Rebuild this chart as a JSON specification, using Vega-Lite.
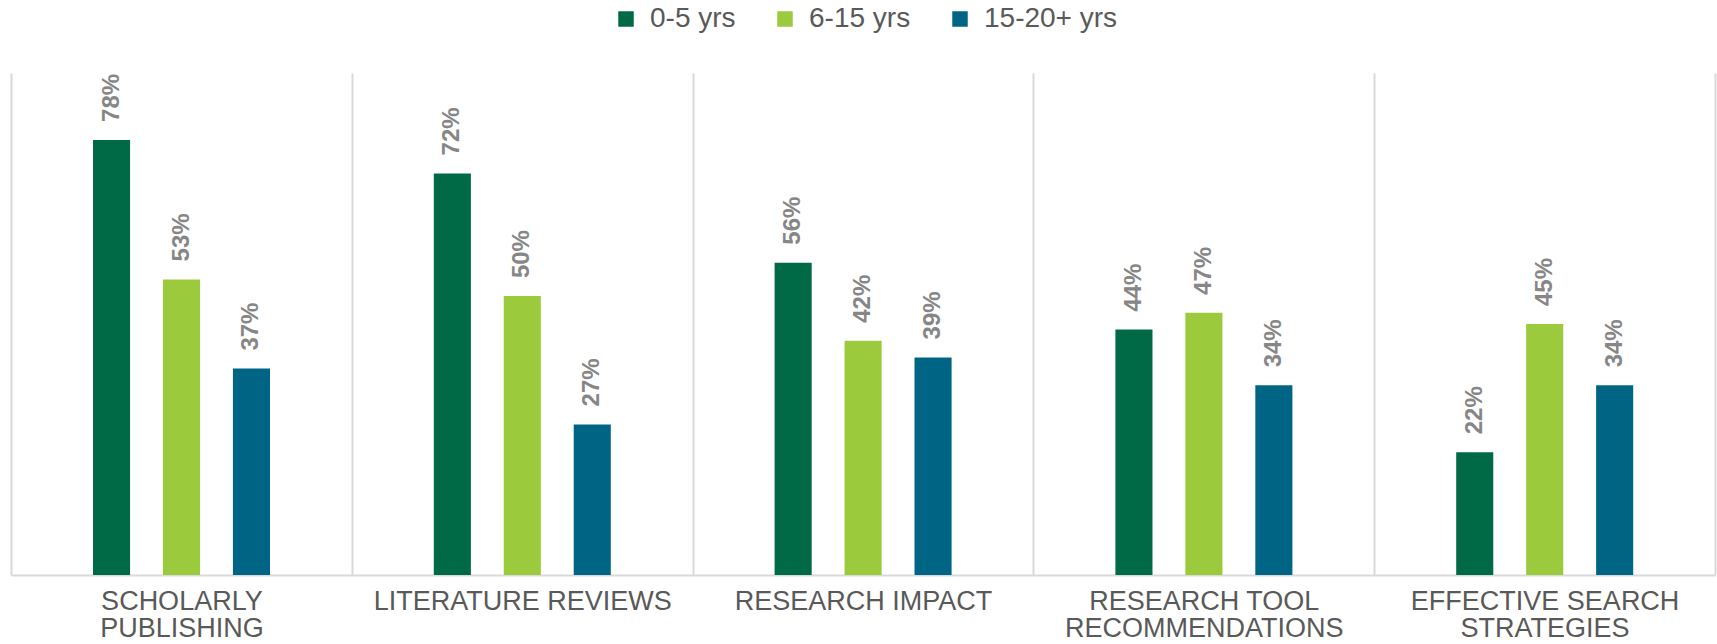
{
  "$schema": "https://vega.github.io/schema/vega-lite/v6.json",
  "width": 1704,
  "height": 502,
  "autosize": {"type": "none"},
  "padding": {"left": 11, "top": 73, "right": 2, "bottom": 69},
  "background": "white",
  "config": {"view": {"stroke": null}, "font": "Liberation Sans"},
  "data": {
    "values": [
      {"category": "SCHOLARLY PUBLISHING", "group": "0-5 yrs", "value": 0.78},
      {"category": "SCHOLARLY PUBLISHING", "group": "6-15 yrs", "value": 0.53},
      {"category": "SCHOLARLY PUBLISHING", "group": "15-20+ yrs", "value": 0.37},
      {"category": "LITERATURE REVIEWS", "group": "0-5 yrs", "value": 0.72},
      {"category": "LITERATURE REVIEWS", "group": "6-15 yrs", "value": 0.50},
      {"category": "LITERATURE REVIEWS", "group": "15-20+ yrs", "value": 0.27},
      {"category": "RESEARCH IMPACT", "group": "0-5 yrs", "value": 0.56},
      {"category": "RESEARCH IMPACT", "group": "6-15 yrs", "value": 0.42},
      {"category": "RESEARCH IMPACT", "group": "15-20+ yrs", "value": 0.39},
      {"category": "RESEARCH TOOL RECOMMENDATIONS", "group": "0-5 yrs", "value": 0.44},
      {"category": "RESEARCH TOOL RECOMMENDATIONS", "group": "6-15 yrs", "value": 0.47},
      {"category": "RESEARCH TOOL RECOMMENDATIONS", "group": "15-20+ yrs", "value": 0.34},
      {"category": "EFFECTIVE SEARCH STRATEGIES", "group": "0-5 yrs", "value": 0.22},
      {"category": "EFFECTIVE SEARCH STRATEGIES", "group": "6-15 yrs", "value": 0.45},
      {"category": "EFFECTIVE SEARCH STRATEGIES", "group": "15-20+ yrs", "value": 0.34}
    ]
  },
  "encoding": {
    "x": {
      "field": "category",
      "type": "nominal",
      "sort": ["SCHOLARLY PUBLISHING", "LITERATURE REVIEWS", "RESEARCH IMPACT", "RESEARCH TOOL RECOMMENDATIONS", "EFFECTIVE SEARCH STRATEGIES"],
      "scale": {"paddingInner": 0, "paddingOuter": 0},
      "axis": {
        "title": null,
        "labelAngle": 0,
        "labelFontSize": 27,
        "labelColor": "#595959",
        "labelPadding": 13,
        "labelLineHeight": 27,
        "labelLimit": 0,
        "ticks": false,
        "grid": true,
        "gridColor": "#d9d9d9",
        "gridWidth": 2,
        "tickBand": "extent",
        "domainColor": "#d9d9d9",
        "domainWidth": 2,
        "labelExpr": "datum.value == 'SCHOLARLY PUBLISHING' ? ['SCHOLARLY', 'PUBLISHING'] : datum.value == 'RESEARCH TOOL RECOMMENDATIONS' ? ['RESEARCH TOOL', 'RECOMMENDATIONS'] : datum.value == 'EFFECTIVE SEARCH STRATEGIES' ? ['EFFECTIVE SEARCH', 'STRATEGIES'] : datum.value"
      }
    },
    "xOffset": {
      "field": "group",
      "type": "nominal",
      "sort": ["0-5 yrs", "6-15 yrs", "15-20+ yrs"],
      "scale": {"range": [82, 259], "paddingInner": 0.47, "paddingOuter": 0}
    },
    "y": {
      "field": "value",
      "type": "quantitative",
      "scale": {"domain": [0, 0.9]},
      "axis": null
    }
  },
  "layer": [
    {
      "mark": {"type": "bar"},
      "encoding": {
        "color": {
          "field": "group",
          "type": "nominal",
          "sort": ["0-5 yrs", "6-15 yrs", "15-20+ yrs"],
          "scale": {"domain": ["0-5 yrs", "6-15 yrs", "15-20+ yrs"], "range": ["#006946", "#9bcb3c", "#006484"]},
          "legend": {
            "orient": "none",
            "legendX": 601,
            "legendY": -68,
            "direction": "horizontal",
            "title": null,
            "symbolType": "square",
            "symbolSize": 240,
            "symbolStrokeWidth": 0,
            "symbolOpacity": 1,
            "labelFontSize": 28,
            "labelColor": "#595959",
            "labelOffset": 10,
            "columnPadding": 35
          }
        }
      }
    },
    {
      "mark": {"type": "text", "angle": 270, "align": "left", "baseline": "middle", "dx": 18, "fontSize": 24, "fontWeight": "bold", "color": "#868686"},
      "encoding": {
        "text": {"field": "value", "type": "quantitative", "format": ".0%"}
      }
    }
  ]
}
